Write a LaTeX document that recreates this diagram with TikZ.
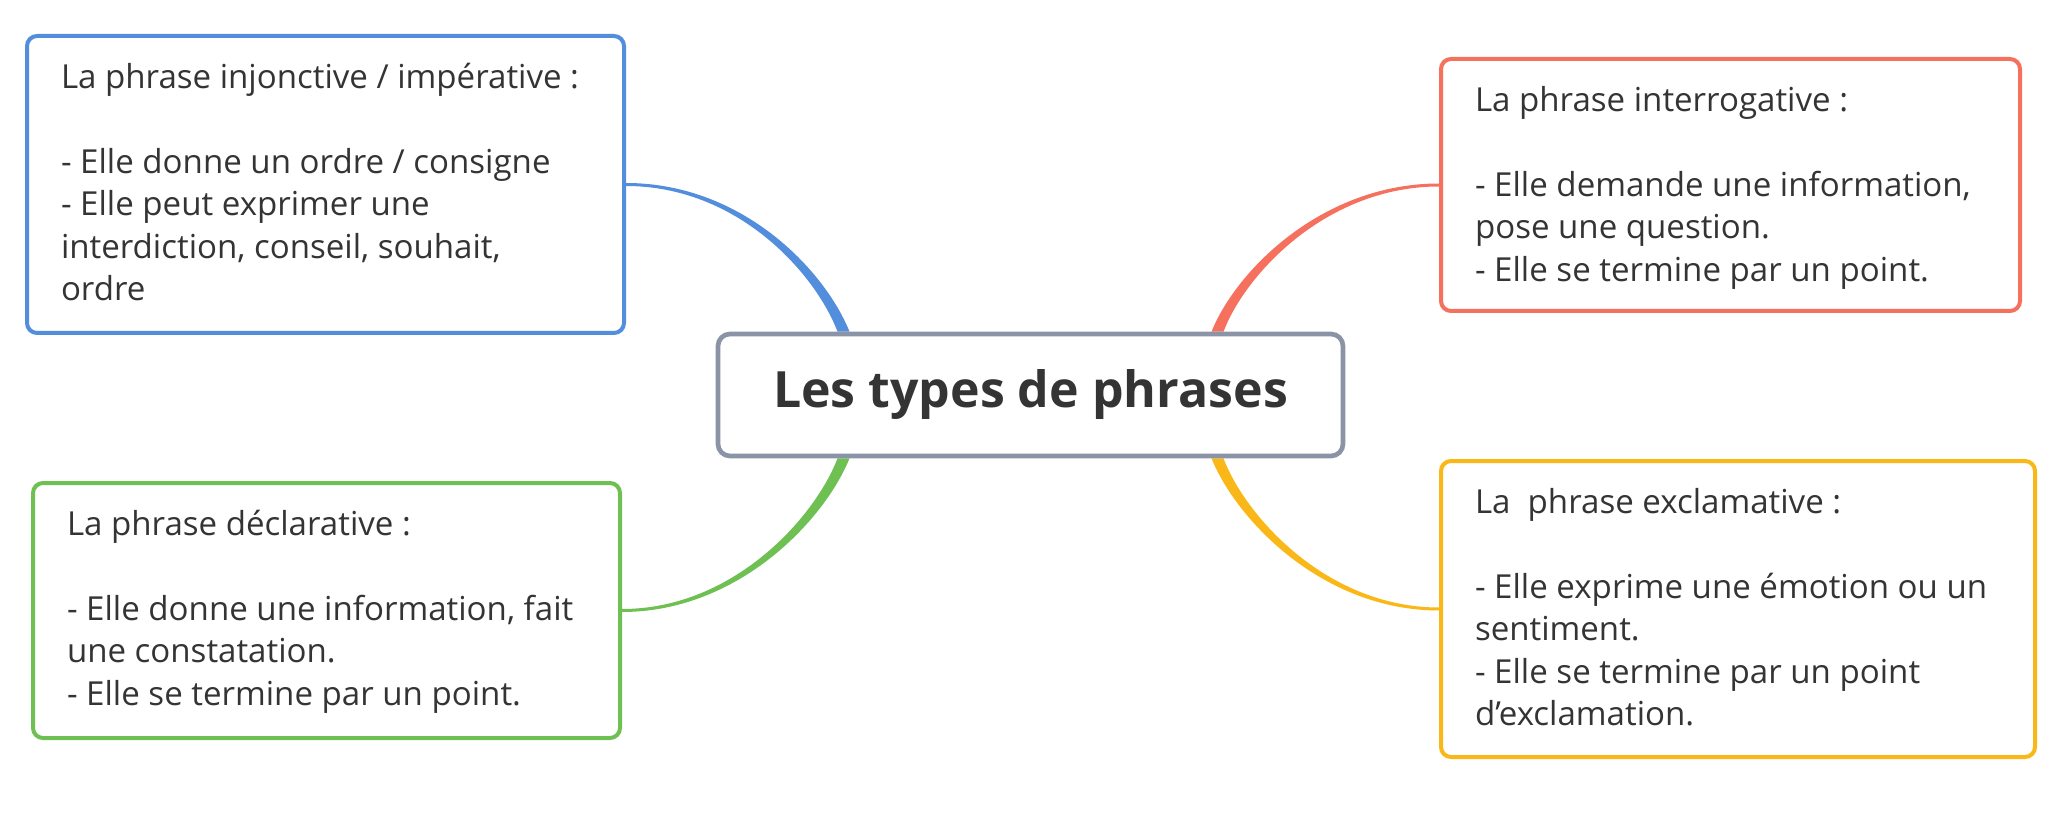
\documentclass[tikz,border=0pt]{standalone}
\usepackage{fontspec}
\setmainfont{Open Sans}
\usetikzlibrary{calc,backgrounds}

\definecolor{injblue}{RGB}{82,142,220}
\definecolor{intred}{RGB}{246,112,94}
\definecolor{decgreen}{RGB}{110,192,82}
\definecolor{excyellow}{RGB}{250,184,24}
\definecolor{hubgray}{RGB}{138,148,166}
\definecolor{txtgray}{RGB}{52,52,52}

\tikzset{every picture/.style={line width=0.75pt}}

\begin{document}
\begin{tikzpicture}[x=0.75pt,y=0.75pt,yscale=-1,xscale=1,
  typebox/.style={draw, line width=3pt, rounded corners=7.5pt, fill=white, anchor=north west,
    inner xsep=25.5pt, inner ysep=20.25pt, text=txtgray, font=\fontsize{24.8pt}{31.9pt}\selectfont},
  hubbox/.style={draw=hubgray, line width=3.5pt, rounded corners=9pt, fill=white,
    minimum width=468.75pt, minimum height=91.5pt, text=txtgray, font=\fontsize{37.5pt}{45pt}\selectfont\bfseries}]
\useasboundingbox (0,0) rectangle (2048,830);

% Central node
\node [hubbox] (hub) at (1030.5,395) {Les types de phrases};

% Top left box
\node [typebox, draw=injblue] (injonctive) at (25,34) {\begin{minipage}[t][182.25pt][t]{396.75pt}\raggedright
La phrase injonctive / impérative :\\[31.9pt]
- Elle donne un ordre / consigne\\
- Elle peut exprimer une\\
interdiction, conseil, souhait,\\
ordre
\end{minipage}};

% Top right box
\node [typebox, draw=intred] (interrogative) at (1439,57) {\begin{minipage}[t][148.5pt][t]{383.25pt}\raggedright
La phrase interrogative :\\[31.9pt]
- Elle demande une information,\\
pose une question.\\
- Elle se termine par un point.
\end{minipage}};

% Bottom left box
\node [typebox, draw=decgreen] (declarative) at (31,481) {\begin{minipage}[t][150.75pt][t]{389.25pt}\raggedright
La phrase déclarative :\\[31.9pt]
- Elle donne une information, fait\\
une constatation.\\
- Elle se termine par un point.
\end{minipage}};

% Bottom right box
\node [typebox, draw=excyellow] (exclamative) at (1439,459) {\begin{minipage}[t][181.5pt][t]{394.5pt}\raggedright
La\ \ phrase exclamative :\\[31.9pt]
- Elle exprime une émotion ou un\\
sentiment.\\
- Elle se termine par un point\\
d’exclamation.
\end{minipage}};

\begin{pgfonlayer}{background}
%Curve Lines: blue branch
\fill [injblue] ($(injonctive.east)+(0,-1.5)$) .. controls +(116,0) and +(-25,-62) .. ($(hub.north)+(-181,0)$)
  -- ($(hub.north)+(-193,0)$) .. controls +(-22,-58) and +(112,0) .. ($(injonctive.east)+(0,1.5)$) -- cycle;
%Curve Lines: red branch
\fill [intred] ($(interrogative.west)+(0,-1.5)$) .. controls +(-116,0) and +(25,-62) .. ($(hub.north)+(181,0)$)
  -- ($(hub.north)+(193,0)$) .. controls +(22,-58) and +(-112,0) .. ($(interrogative.west)+(0,1.5)$) -- cycle;
%Curve Lines: green branch
\fill [decgreen] ($(declarative.east)+(0,1.5)$) .. controls +(116,0) and +(-25,62) .. ($(hub.south)+(-181,0)$)
  -- ($(hub.south)+(-193,0)$) .. controls +(-22,58) and +(112,0) .. ($(declarative.east)+(0,-1.5)$) -- cycle;
%Curve Lines: yellow branch
\fill [excyellow] ($(exclamative.west)+(0,1.5)$) .. controls +(-116,0) and +(25,62) .. ($(hub.south)+(181,0)$)
  -- ($(hub.south)+(193,0)$) .. controls +(22,58) and +(-112,0) .. ($(exclamative.west)+(0,-1.5)$) -- cycle;
\end{pgfonlayer}

\end{tikzpicture}
\end{document}
